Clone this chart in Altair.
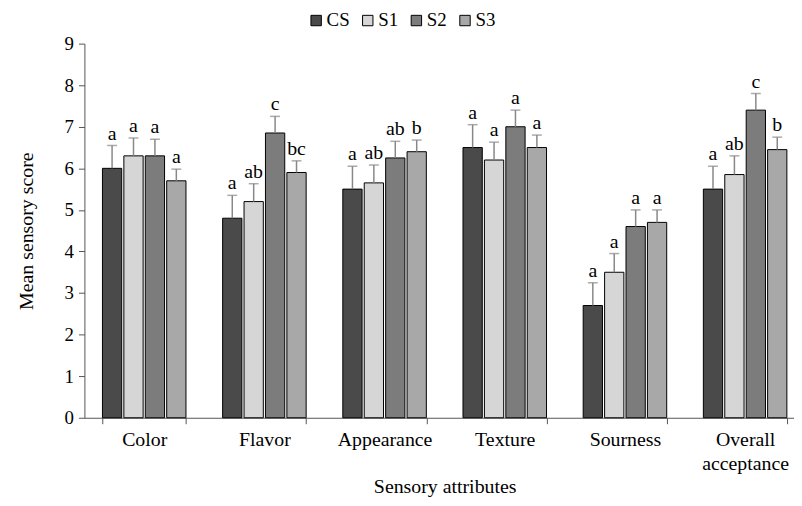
import altair as alt
import pandas as pd

attributes = ["Color", "Flavor", "Appearance", "Texture", "Sourness", "Overall acceptance"]
samples = ["CS", "S1", "S2", "S3"]
means = {
    "CS": [6.0, 4.8, 5.5, 6.5, 2.7, 5.5],
    "S1": [6.3, 5.2, 5.65, 6.2, 3.5, 5.85],
    "S2": [6.3, 6.85, 6.25, 7.0, 4.6, 7.4],
    "S3": [5.7, 5.9, 6.4, 6.5, 4.7, 6.45],
}
errors = {
    "CS": [0.55, 0.55, 0.55, 0.55, 0.55, 0.55],
    "S1": [0.43, 0.43, 0.43, 0.43, 0.45, 0.45],
    "S2": [0.4, 0.4, 0.4, 0.4, 0.4, 0.4],
    "S3": [0.28, 0.28, 0.28, 0.3, 0.3, 0.3],
}
letters = {
    "CS": ["a", "a", "a", "a", "a", "a"],
    "S1": ["a", "ab", "ab", "a", "a", "ab"],
    "S2": ["a", "c", "ab", "a", "a", "c"],
    "S3": ["a", "bc", "b", "a", "a", "b"],
}
fills = ["#4a4a4a", "#d6d6d6", "#7c7c7c", "#a8a8a8"]

rows = []
for s in samples:
    for i, a in enumerate(attributes):
        m = means[s][i]
        e = errors[s][i]
        rows.append({"attr": a, "sample": s, "mean": m, "top": m + e, "letter": letters[s][i]})
df = pd.DataFrame(rows)

FONT = "Liberation Serif"

x = alt.X("attr:N", sort=attributes, title="Sensory attributes",
          scale=alt.Scale(paddingInner=0.305, paddingOuter=0.15, range=[0, 726]),
          axis=alt.Axis(labelAngle=0, tickBand="extent", tickSize=6, labelPadding=6,
                        labelFontSize=20, titleFontSize=20, titlePadding=3,
                        labelFont=FONT, titleFont=FONT, labelColor="black", titleColor="black",
                        titleFontWeight="normal", domainColor="#555", tickColor="#555",
                        labelLineHeight=24,
                        labelExpr="datum.label == 'Overall acceptance' ? ['Overall', 'acceptance'] : datum.label"))
xo = alt.XOffset("sample:N", sort=samples, scale=alt.Scale(paddingInner=0.1))
yscale = alt.Scale(domain=[0, 9])

base = alt.Chart(df)

bars = base.mark_bar(stroke="black", strokeWidth=1).encode(
    x=x, xOffset=xo,
    y=alt.Y("mean:Q", scale=yscale, title="Mean sensory score",
            axis=alt.Axis(values=list(range(10)), grid=False, tickSize=6, labelPadding=5,
                          labelFontSize=19, titleFontSize=20, titlePadding=28,
                          labelFont=FONT, titleFont=FONT, labelColor="black", titleColor="black",
                          titleFontWeight="normal", domainColor="#555", tickColor="#555")),
    fill=alt.Fill("sample:N", sort=samples, scale=alt.Scale(domain=samples, range=fills),
                  legend=alt.Legend(title=None, orient="none", direction="horizontal",
                                    legendX=224, legendY=-33, symbolType="square",
                                    symbolSize=110, symbolStrokeColor="black", symbolStrokeWidth=1,
                                    labelFont=FONT, labelFontSize=19, labelColor="black",
                                    columnPadding=8, labelOffset=1)),
)

err = base.mark_rule(color="#888", strokeWidth=1.5).encode(
    x=x, xOffset=xo, y=alt.Y("mean:Q", scale=yscale), y2="top:Q")

cap = base.mark_tick(color="#888", thickness=1.5, size=10, orient="horizontal").encode(
    x=x, xOffset=xo, y=alt.Y("top:Q", scale=yscale))

txt = base.mark_text(font=FONT, fontSize=20, color="black", baseline="bottom", dy=-2).encode(
    x=x, xOffset=xo, y=alt.Y("top:Q", scale=yscale), text="letter:N")

chart = alt.layer(bars, err, cap, txt).properties(
    width=715, height=377,
    autosize=alt.AutoSizeParams(type="none"),
    padding={"left": 77, "top": 34, "right": 0, "bottom": 84},
    background="white",
).configure_view(stroke=None)

chart.save("out.html", embed_options={"renderer": "svg", "actions": False})
